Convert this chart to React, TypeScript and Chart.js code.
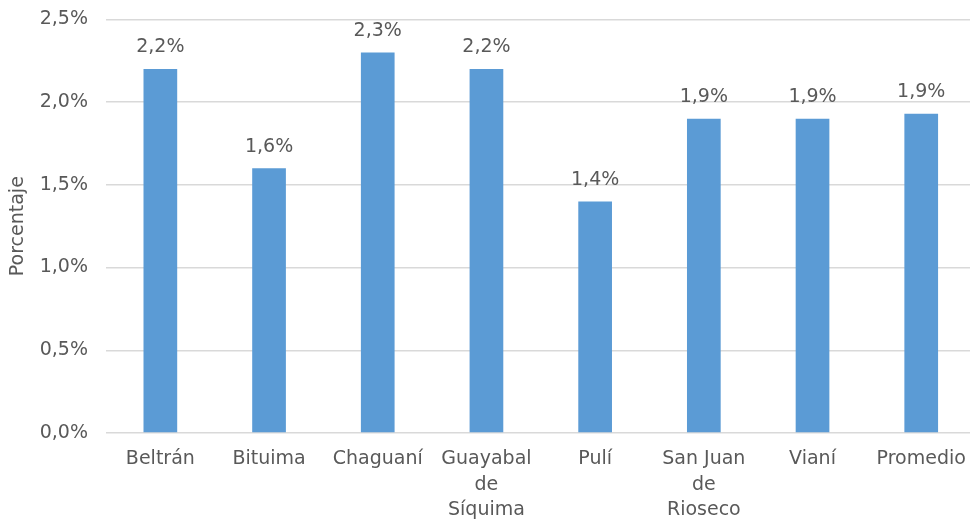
import React, { useEffect, useRef } from "react";
import { Chart, registerables } from "chart.js";

Chart.register(...registerables);

const categories: (string | string[])[] = [
  "Beltrán",
  "Bituima",
  "Chaguaní",
  ["Guayabal", "de", "Síquima"],
  "Pulí",
  ["San Juan", "de", "Rioseco"],
  "Vianí",
  "Promedio",
];
const values: number[] = [2.2, 1.6, 2.3, 2.2, 1.4, 1.9, 1.9, 1.93];
const yTicks = { min: 0, max: 2.5, step: 0.5 };
const yTitle = "Porcentaje";

const FONT = "'DejaVu Sans', sans-serif";
const TEXT = "#595959";

const fmt = (v: number) => v.toFixed(1).replace(".", ",") + "%";

const labelPlugin = {
  id: "barLabels",
  afterDatasetsDraw(chart: any) {
    const ctx = chart.ctx;
    const meta = chart.getDatasetMeta(0);
    ctx.save();
    ctx.fillStyle = TEXT;
    ctx.font = `19px ${FONT}`;
    ctx.textAlign = "center";
    ctx.textBaseline = "bottom";
    meta.data.forEach((bar: any, i: number) => {
      ctx.fillText(fmt(values[i]), bar.x, bar.y - 12);
    });
    ctx.restore();
  },
};

export default function App() {
  const ref = useRef<HTMLCanvasElement | null>(null);
  useEffect(() => {
    if (!ref.current) return;
    const chart = new Chart(ref.current, {
      type: "bar",
      data: {
        labels: categories,
        datasets: [
          {
            data: values,
            backgroundColor: "#5B9BD5",
            borderWidth: 0,
            barPercentage: 1,
            categoryPercentage: 0.31,
          },
        ],
      },
      options: {
        responsive: false,
        animation: false,
        layout: { padding: { top: 6, right: 2, left: 0, bottom: 0 } },
        plugins: { legend: { display: false }, tooltip: { enabled: false } },
        scales: {
          x: {
            grid: { display: false, drawTicks: false },
            border: { display: false },
            ticks: {
              color: TEXT,
              font: { family: FONT, size: 19, lineHeight: 1.32 },
              maxRotation: 0,
              autoSkip: false,
              padding: 14,
            },
            afterFit: (s: any) => {
              s.height = 93;
            },
          },
          y: {
            min: yTicks.min,
            max: yTicks.max,
            grid: { color: "#D9D9D9", lineWidth: 1.5, drawTicks: false },
            border: { display: false },
            ticks: {
              stepSize: yTicks.step,
              color: TEXT,
              font: { family: FONT, size: 19 },
              padding: 18,
              callback: (v: any) => fmt(Number(v)),
            },
            title: {
              display: true,
              text: yTitle,
              color: TEXT,
              font: { family: FONT, size: 19 },
              padding: { top: 7, bottom: 0 },
            },
            afterFit: (s: any) => {
              s.width = 106;
            },
          },
        },
      },
      plugins: [labelPlugin],
    });
    return () => chart.destroy();
  }, []);
  return (
    <div
      style={{
        position: "fixed",
        left: 0,
        top: 0,
        width: 970,
        height: 525,
        overflow: "hidden",
        background: "#fff",
      }}
    >
      <canvas
        ref={ref}
        width={980}
        height={536}
        style={{ position: "absolute", left: 0, top: -10 }}
      />
    </div>
  );
}
